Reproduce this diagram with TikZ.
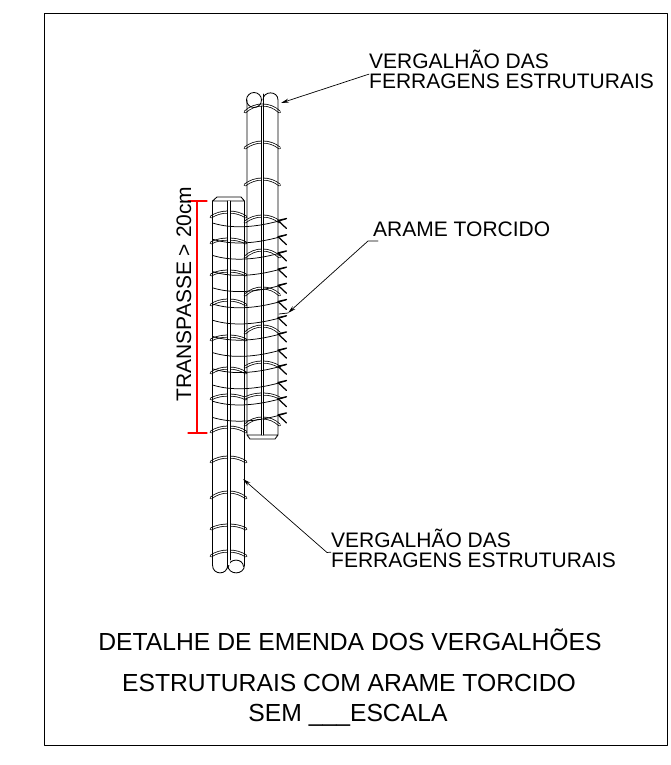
\documentclass[tikz,border=0pt]{standalone}
\usepackage{fontspec}
\setmainfont{Liberation Sans}
\usetikzlibrary{arrows.meta}
\tikzset{
	barline/.style={line width=0.85pt},
	stirrup/.style={double=white, double distance=1.3pt, line width=0.75pt, line cap=round},
	wire/.style={line width=0.75pt},
	knot/.style={line width=1.25pt},
	redline/.style={red, line width=1.8pt},
	leader/.style={line width=0.7pt, -{Stealth[length=8pt,width=4pt]}},
	label/.style={anchor=base west, inner sep=0pt, font=\fontsize{21}{21}\selectfont},
	title/.style={anchor=base, inner sep=0pt, font=\fontsize{24.7}{24.7}\selectfont}
}
\begin{document}
\begin{tikzpicture}[x=1pt, y=-1pt, line join=round, line cap=round]
	\def\xL{212.5} \def\xLa{227.7} \def\xLb{230} \def\xLr{244.5}
	\def\xU{247} \def\xUa{261} \def\xUb{263.3} \def\xUr{278}
	\useasboundingbox (0,0) rectangle (670,765);
	\draw[line width=0.9pt] (44.5,13.3) rectangle (667.7,745);
	% stirrups of the lower bar
	\foreach \ye/\yp in {217/212, 243/239, 275/271, 305/300, 340/336, 373/368, 399/395, 432/427, 462/457, 498/492, 529/525, 556/551}
		\draw[stirrup] (\xL-1.5,\ye) .. controls (\xL+8,{\ye-(\ye-\yp)*4/3}) and (\xLr-8,{\ye-(\ye-\yp)*4/3}) .. (\xLr+1.5,\ye);
	% stirrups of the upper bar
	\foreach \ye/\yp in {112/105, 148/142, 185/179, 222/216, 257/250, 295/288, 333/326, 367/362, 398/394, 425/418}
		\draw[stirrup] (\xU-2,\ye) .. controls (\xU+8,{\ye-(\ye-\yp)*4/3}) and (\xUr-8,{\ye-(\ye-\yp)*4/3}) .. (\xUr+1.5,\ye);
	% lower bar
	\draw[barline] (\xL,201) -- (\xL,565) .. controls (\xL,575.5) and (\xLa,575.5) .. (\xLa,565)
		(\xLb-2.2,565) .. controls (\xLb-2.2,575.5) and (\xLr,575.5) .. (\xLr,565) -- (\xLr,201)
		(\xL,201) -- (217,197) -- (241,197) -- (\xLr,201) -- cycle;
	\draw[barline] (236,566.5) ++(-7.5,0) .. controls (229,558) and (243,558) .. (243.5,566.5);
	\fill[white] (\xLa,201) rectangle (\xLb,565);
	\draw[barline] (\xLa,201) -- (\xLa,565) (\xLb,201) -- (\xLb,560);
	% upper bar
	\draw[barline] (\xU,100) -- (\xU,435) -- (250,439) -- (275,439) -- (\xUr,435) -- (\xUr,100)
		.. controls (\xUr,90.5) and (\xUa+2,90.5) .. (\xUa+2,100) (\xU,435) -- (\xUr,435);
	\draw[barline] (254,100) circle (7.5);
	\fill[white] (\xUa,108) rectangle (\xUb,435);
	\draw[barline] (\xUa,106) -- (\xUa,435) (\xUb,94) -- (\xUb,435);
	% twisted wire with its knots
	\foreach \k in {0,...,12}{
		\pgfmathsetmacro{\yk}{222+16.2*\k}
		\draw[wire] (\xL,\yk+1) .. controls (232,\yk+7) and (256,\yk+6) .. (286,\yk-3);
		\draw[knot] (\xUr,\yk-1.5) -- (286.5,\yk-3.5) (\xUr,\yk-1.5) -- (286.5,\yk+6.5);
	}
	% dimension in red
	\draw[redline] (197,201) -- (197,433);
	\draw[red, line width=1.1pt] (188,201) -- (207,201) (188,433) -- (207,433);
	\node[label, rotate=90] (transpasse) at (191,401.7) {TRANSPASSE > 20cm};
	% labels and leaders
	\node[label] (topa) at (369,69) {VERGALHÃO DAS};
	\node[label] (topb) at (369,89) {FERRAGENS ESTRUTURAIS};
	\node[label] (wirelabel) at (373,236) {ARAME TORCIDO};
	\node[label] (lowa) at (331,547) {VERGALHÃO DAS};
	\node[label] (lowb) at (331,567) {FERRAGENS ESTRUTURAIS};
	\coordinate (toptip) at (281,103);
	\coordinate (wirebend) at (368,241);
	\coordinate (wirestart) at (378,241);
	\coordinate (wiretip) at (288,313);
	\coordinate (wireend) at (279,314);
	\coordinate (lowbend) at (327,552.5);
	\coordinate (lowstart) at (lowb.north west);
	\coordinate (lowtip) at (243,479);
	\draw[leader] (topb.north west) -- (toptip);
	\draw[leader] (wirestart) -- (wirebend) -- (wiretip);
	\draw[wire] (wiretip) -- (wireend);
	\draw[leader] (lowstart) -- (lowbend) -- (lowtip);
	% title
	\node[title] (titlea) at (350,650) {DETALHE DE EMENDA DOS VERGALHÕES};
	\node[title] (titleb) at (349,691) {ESTRUTURAIS COM ARAME TORCIDO};
	\node[title] (titlec) at (348,721) {SEM \_\_\_ESCALA};
\end{tikzpicture}
\end{document}
